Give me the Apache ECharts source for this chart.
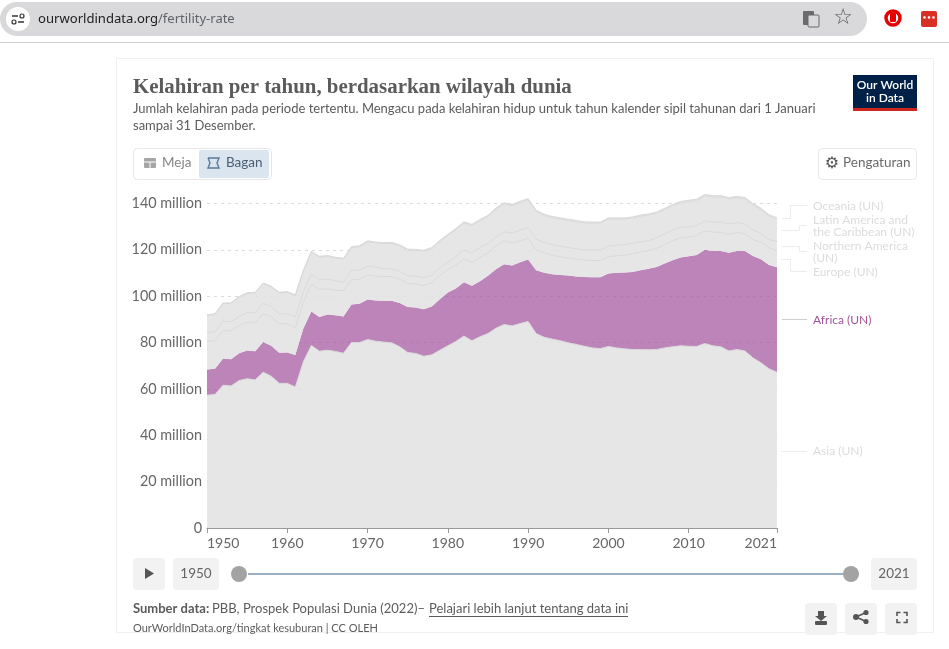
<!DOCTYPE html>
<html>
<head>
<meta charset="utf-8">
<style>html,body{margin:0;padding:0;background:#fff}#c{width:949px;height:649px}</style>
<script src="https://cdn.jsdelivr.net/npm/echarts@6/dist/echarts.min.js"></script>
</head>
<body>
<div id="c"></div>
<script>
const years = [];
for (let y = 1950; y <= 2021; y++) years.push(String(y));
const yTicks = ['0','20 million','40 million','60 million','80 million','100 million','120 million','140 million'];
const xTicks = ['1950','1960','1970','1980','1990','2000','2010','2021'];
const asia = [57.3,57.6,61.6,61.3,63.6,64.4,63.9,67.2,65.5,62.4,
  62.4,60.8,71.7,78.7,76.3,76.7,76.2,75.4,80.0,80.0,
  81.3,80.6,80.2,79.9,78.2,75.7,75.3,74.1,74.7,76.7,
  78.6,80.5,82.8,80.8,82.5,83.9,86.2,87.8,87.2,88.2,
  89.1,83.9,82.3,81.5,80.8,79.9,79.2,78.4,77.7,77.4,
  78.3,77.7,77.3,77.0,77.0,76.9,77.0,77.7,78.2,78.6,
  78.4,78.3,79.6,78.6,78.2,76.4,77.0,76.4,73.4,71.3,
  68.7,67.2];
const africa = [11.1,11.1,11.5,11.5,11.8,12.2,12.4,13.0,13.1,13.2,
  13.3,13.8,14.4,14.7,14.7,15.4,15.6,15.8,16.4,16.8,
  17.3,17.5,17.8,18.1,18.9,19.6,19.8,20.3,20.9,22.0,
  23.0,22.8,23.2,23.7,24.0,24.9,25.4,26.0,26.0,26.5,
  26.7,27.3,27.8,28.0,28.4,29.0,29.3,29.9,30.5,30.8,
  31.5,32.4,32.9,33.5,34.2,34.9,35.6,36.4,37.3,38.1,
  38.8,39.5,40.4,40.9,41.3,42.4,42.5,43.1,44.0,44.7,
  44.8,45.3];
const europe = [12.1,12.2,12.1,12.2,11.9,12.1,12.4,12.2,12.5,12.5,
  12.4,11.9,11.5,11.9,11.9,11.1,10.8,11.2,10.8,10.5,
  10.5,10.5,10.5,10.5,10.3,10.2,10.2,10.2,10.3,10.3,
  9.9,10.1,10.2,10.1,10.3,9.9,10.1,10.1,9.8,9.3,
  9.2,8.9,8.6,8.2,7.8,7.6,7.5,7.3,7.2,7.2,
  7.3,7.3,7.5,7.8,7.8,7.9,8.0,8.2,8.5,8.5,
  8.3,8.3,8.2,8.2,8.0,7.9,7.9,7.5,7.0,7.3,
  7.5,6.9];
const northAmerica = [3.9,3.7,4.0,4.0,4.0,4.2,4.2,4.5,4.3,4.3,
  4.3,4.6,4.3,4.2,4.2,4.2,4.0,3.7,3.9,4.0,
  3.9,3.9,3.4,3.3,3.3,3.3,3.4,3.4,3.2,3.2,
  3.0,3.6,3.7,4.0,4.2,4.0,3.9,3.9,4.2,4.5,
  4.6,4.5,4.5,4.5,4.6,4.5,4.5,4.3,4.5,4.5,
  4.6,4.5,4.5,4.5,4.5,4.3,4.5,4.5,4.5,4.5,
  4.5,4.3,4.3,4.3,4.5,4.5,4.3,4.2,4.2,3.9,
  3.4,4.2];
const latinAmerica = [7.2,7.6,7.6,7.9,8.3,8.3,8.5,8.5,8.6,9.0,
  9.2,9.1,8.9,9.5,9.7,9.8,9.8,9.9,9.9,10.1,
  10.5,10.5,10.8,11.0,11.1,11.1,11.1,11.4,11.5,11.5,
  11.7,11.7,11.7,11.9,11.6,11.7,12.0,12.0,11.9,12.0,
  12.0,12.0,11.7,11.7,11.7,11.7,11.7,11.7,11.6,11.6,
  11.6,11.4,11.1,10.9,11.0,11.0,10.7,10.6,10.6,10.7,
  10.8,10.9,10.8,10.8,10.8,10.8,10.8,10.8,10.8,10.2,
  10.2,9.6];
const oceania = [0.3,0.3,0.3,0.3,0.3,0.3,0.3,0.3,0.3,0.3,
  0.4,0.4,0.4,0.4,0.4,0.4,0.4,0.4,0.4,0.4,
  0.4,0.4,0.4,0.4,0.4,0.4,0.4,0.4,0.4,0.4,
  0.5,0.5,0.5,0.5,0.5,0.5,0.5,0.5,0.5,0.5,
  0.5,0.5,0.5,0.5,0.5,0.5,0.5,0.5,0.5,0.5,
  0.5,0.5,0.5,0.5,0.5,0.5,0.5,0.5,0.5,0.5,
  0.6,0.6,0.6,0.6,0.6,0.6,0.6,0.6,0.6,0.6,
  0.6,0.6];

const GRAY='#e3e3e3', LINE='#d9d9d9', PURPLE='#a2559c', TXT='#5b5b5b';
const FONT='Lato, sans-serif';
function band(name, data, focus){
  return {
    name, type:'line', stack:'t', clip:false, showSymbol:false, symbol:'none', silent:true,
    data,
    lineStyle: focus ? {width:0} : {width:1, color:LINE},
    areaStyle: focus ? {color:PURPLE, opacity:0.72} : {color:GRAY, opacity:0.88}
  };
}
const el=[];
const rect=(x,y,w,h,fill,r,stroke)=>el.push({type:'rect',shape:{x,y,width:w,height:h,r:r||0},style:{fill:fill||'none',stroke:stroke||null,lineWidth:1},silent:true});
const text=(x,y,t,font,fill,align)=>el.push({type:'text',x,y,style:{text:t,font,fill,align:align||'left',verticalAlign:'middle'},silent:true});
const poly=(pts,stroke,lw,fill)=>el.push({type:'polyline',shape:{points:pts},style:{stroke:stroke,lineWidth:lw||1,fill:fill||'none'},silent:true});
const polygon=(pts,fill)=>el.push({type:'polygon',shape:{points:pts},style:{fill},silent:true});
const circ=(cx,cy,r,fill,stroke,lw)=>el.push({type:'circle',shape:{cx,cy,r},style:{fill:fill||'none',stroke:stroke||null,lineWidth:lw||1},silent:true});

// card outline
rect(116.5,58.5,817,574,'none',0,'#f0f0f0');

// browser bar
rect(0,2,867,34,'#d9d9db',17);
circ(18,19,12,'#fff');
poly([[12,16],[18,16]],'#333',1.5); circ(22,16,2,'none','#333',1.2);
poly([[18,22],[24,22]],'#333',1.5); circ(14,22,2,'none','#333',1.2);
text(38,19.5,'ourworldindata.org','13.1px "Noto Sans", sans-serif','#202124');
text(158,19.5,'/fertility-rate','13px "Noto Sans", sans-serif','#5f6368');
poly([[0,42.5],[949,42.5]],'#d0d0d0',1);
// translate + star
rect(803,11,11,14,'#6b6b6b',1); rect(808,15,11,12,'#d9d9db',1,'#6b6b6b');
text(843,18.5,'☆','bold 22px "DejaVu Sans"','#555','center');
circ(893,18,7,'#fff','#e60000',3.5); rect(890,13,6,9,'#e60000',1);
rect(921,11,16,16,'#d93025',2);
text(929,18,'•••','bold 7px "DejaVu Sans"','#fff','center');

// title block
text(133,88,'Kelahiran per tahun, berdasarkan wilayah dunia','bold 20.9px "Liberation Serif", serif',TXT);
text(133,109,'Jumlah kelahiran pada periode tertentu. Mengacu pada kelahiran hidup untuk tahun kalender sipil tahunan dari 1 Januari','13px '+FONT,TXT);
text(133,126,'sampai 31 Desember.','13px '+FONT,TXT);
// logo
rect(853,75,64,36,'#002147');
rect(853,108,64,3,'#ce261e');
text(885,85.5,'Our World','600 12px '+FONT,'#fff','center');
text(885,98,'in Data','600 12px '+FONT,'#fff','center');
// toggle
rect(133.5,148.5,138,31,'#fff',4,'#e7e7e7');
rect(199,150,70,28,'#dbe5f0',2);
rect(144,158,12,10,'#a5a5a5',1);
poly([[144,162],[156,162]],'#fff',1); poly([[150,162],[150,168]],'#fff',1);
text(162,163,'Meja','13.5px '+FONT,'#858585');
poly([[208,158],[219,158],[217,163],[219,168],[208,168],[210,163],[208,158]],'#5b7a9a',1.4);
text(226,163,'Bagan','13.5px '+FONT,'#4a5f75');
// settings
rect(818.5,148.5,98,31,'#fff',4,'#e7e7e7');
text(832,163.5,'⚙','bold 16px "DejaVu Sans"','#555','center');
text(843,163,'Pengaturan','13.5px '+FONT,'#6a6a6a');

// series labels
const labelColor='#dcdcdc', leader='#ececec';
const LF='12px '+FONT;
text(813,206,'Oceania (UN)',LF,labelColor);
text(813,220,'Latin America and',LF,labelColor);
text(813,232,'the Caribbean (UN)',LF,labelColor);
text(813,246,'Northern America',LF,labelColor);
text(813,258,'(UN)',LF,labelColor);
text(813,272,'Europe (UN)',LF,labelColor);
text(813,320,'Africa (UN)',LF,PURPLE);
text(813,451,'Asia (UN)',LF,labelColor);
poly([[782,218.5],[790.5,218.5],[790.5,205.5],[807,205.5]],leader);
poly([[782,230.5],[799.5,230.5],[799.5,225.5],[807,225.5]],leader);
poly([[782,246.5],[799.5,246.5],[799.5,251.5],[807,251.5]],leader);
poly([[782,259.5],[790.5,259.5],[790.5,271.5],[807,271.5]],leader);
poly([[782,319.5],[807,319.5]],'#cfcfcf');
poly([[782,451.5],[807,451.5]],leader);

// timeline
rect(133,558,32,32,'#f2f2f2',4);
polygon([[145,568],[145,579],[154,573.5]],'#555');
rect(173,558,46,32,'#f2f2f2',4);
text(196,574,'1950','13.5px '+FONT,'#666','center');
poly([[248,574],[845,574]],'#9bb0c4',2);
circ(239,574,8,'#a3a3a3');
circ(851,574,8,'#a3a3a3');
rect(871,558,46,32,'#f2f2f2',4);
text(894,574,'2021','13.5px '+FONT,'#666','center');

// footer
text(133,608.5,'Sumber data:','bold 13px '+FONT,TXT);
text(212,608.5,'PBB, Prospek Populasi Dunia (2022)–','13px '+FONT,TXT);
text(429,608.5,'Pelajari lebih lanjut tentang data ini','13px '+FONT,TXT);
poly([[429,616.5],[628,616.5]],TXT,1);
text(133,628,'OurWorldInData.org/tingkat kesuburan | CC OLEH','11px '+FONT,TXT);
rect(805,603,32,32,'#f2f2f2',4);
rect(845,603,32,32,'#f2f2f2',4);
rect(885,603,32,32,'#f2f2f2',4);
polygon([[818,611],[824,611],[824,616],[827,616],[821,621],[815,616],[818,616]],'#555');
rect(815,621,12,4,'#555',1);
circ(856,617,3,'#555'); circ(866,612.5,2.6,'#555'); circ(866,621.5,2.6,'#555');
poly([[856,617],[866,612.5]],'#555',1.5); poly([[856,617],[866,621.5]],'#555',1.5);
poly([[897,616],[897,612.5],[900.5,612.5]],'#555',1.6);
poly([[903.5,612.5],[907,612.5],[907,616]],'#555',1.6);
poly([[897,619],[897,622.5],[900.5,622.5]],'#555',1.6);
poly([[903.5,622.5],[907,622.5],[907,619]],'#555',1.6);

const showTick=(i,v)=>xTicks.includes(v);
const chart=echarts.init(document.getElementById('c'),null,{renderer:'canvas',width:949,height:649});
chart.setOption({
  animation:false,
  backgroundColor:'transparent',
  textStyle:{fontFamily:FONT},
  grid:{left:207,right:172,top:203.5,height:324.5,containLabel:false},
  xAxis:{type:'category',data:years,boundaryGap:false,splitLine:{show:false},
    axisLine:{show:true,lineStyle:{color:'#999',width:1}},
    axisTick:{show:true,length:5,interval:showTick,alignWithLabel:true,lineStyle:{color:'#999'}},
    axisLabel:{show:true,color:'#666',fontSize:14,fontFamily:FONT,margin:8,interval:showTick,hideOverlap:false,
      showMinLabel:true,showMaxLabel:true,alignMinLabel:'left',alignMaxLabel:'right'}},
  yAxis:{type:'value',min:0,max:140,interval:20,
    axisLine:{show:false},axisTick:{show:false},
    splitLine:{show:true,lineStyle:{color:'#dcdcdc',type:[3,4],width:1}},
    axisLabel:{color:'#666',fontSize:14.4,fontFamily:FONT,margin:5,padding:[1,0,0,0],formatter:v=>yTicks[v/20]}},
  series:[
    band('Asia (UN)',asia),
    band('Africa (UN)',africa,true),
    band('Europe (UN)',europe),
    band('Northern America (UN)',northAmerica),
    band('Latin America and the Caribbean (UN)',latinAmerica),
    band('Oceania (UN)',oceania)
  ],
  graphic:{elements:el}
});
</script>
</body>
</html>
